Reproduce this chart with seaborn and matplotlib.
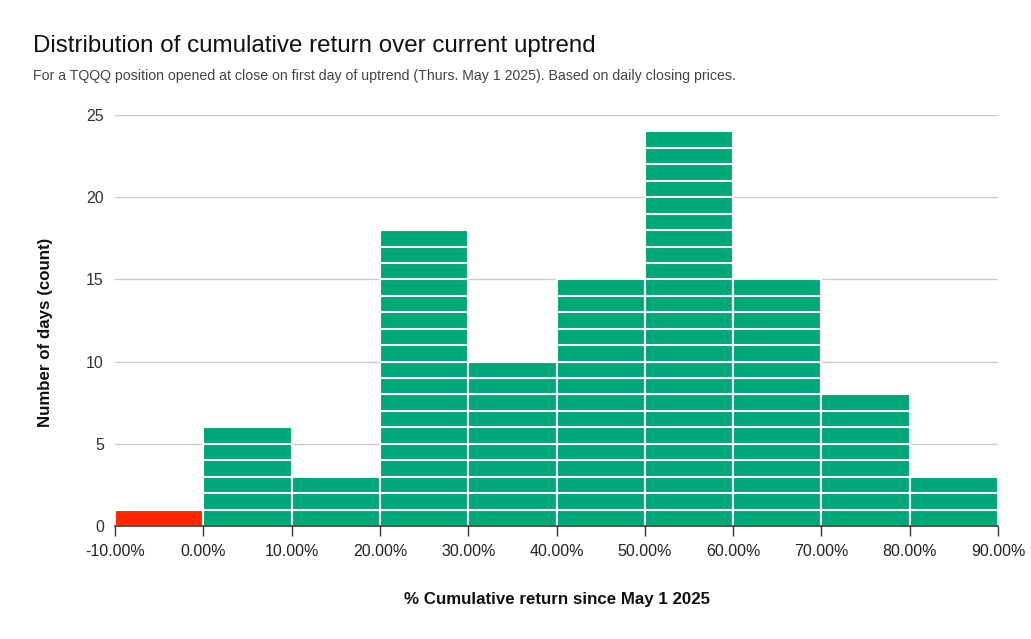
import matplotlib
matplotlib.use("Agg")
import matplotlib.pyplot as plt
import seaborn as sns
import numpy as np
import pandas as pd

# Data
bin_edges = [-10, 0, 10, 20, 30, 40, 50, 60, 70, 80, 90]
counts = [1, 6, 3, 18, 10, 15, 24, 15, 8, 3]
y_ticks = [0, 5, 10, 15, 20, 25]

title = "Distribution of cumulative return over current uptrend"
subtitle = "For a TQQQ position opened at close on first day of uptrend (Thurs. May 1 2025). Based on daily closing prices."
xlabel = "% Cumulative return since May 1 2025"
ylabel = "Number of days (count)"

GREEN = "#00a878"
RED = "#ff2600"

sns.set_theme(style="white")
plt.rcParams['font.family'] = ['Liberation Sans', 'DejaVu Sans']

fig = plt.figure(figsize=(10.31, 6.39), dpi=100)
ax = fig.add_axes([115/1031, 1-526/639, (998-115)/1031, (526-115)/639])

centers = [(bin_edges[i] + bin_edges[i+1]) / 2 for i in range(len(counts))]
df = pd.DataFrame({"ret": centers, "n": counts})

sns.histplot(data=df, x="ret", weights="n", bins=bin_edges, ax=ax,
             color=GREEN, alpha=1, edgecolor="white", linewidth=1.5, zorder=3)
for p, e in zip(ax.patches, bin_edges[:-1]):
    if e < 0:
        p.set_facecolor(RED)

# white separators at each unit level (stacked blocks look)
for i, c in enumerate(counts):
    for k in range(1, c):
        ax.hlines(k, bin_edges[i], bin_edges[i+1], color="white", linewidth=1.5, zorder=4)

ax.set_xlim(-10, 90)
ax.set_ylim(0, 25)
ax.set_yticks(y_ticks)
ax.set_xticks(bin_edges)
ax.set_xticklabels([f"{v:.2f}%" for v in bin_edges])
ax.yaxis.grid(True, color="#cccccc", linewidth=1, zorder=0)
ax.xaxis.grid(False)
ax.set_axisbelow(True)
for s in ["top", "right", "left"]:
    ax.spines[s].set_visible(False)
ax.spines["bottom"].set_color("#333333")
ax.spines["bottom"].set_linewidth(1.2)
ax.spines["bottom"].set_zorder(5)
ax.tick_params(axis="x", bottom=True, length=7, width=1, color="#333333",
               labelsize=11.5, labelcolor="#222222", pad=6)
ax.tick_params(axis="y", left=False, labelsize=11.5, labelcolor="#333333", pad=2)

ax.set_xlabel(xlabel, fontsize=12.2, fontweight="bold", color="#111111", labelpad=24)
ax.set_ylabel(ylabel, fontsize=12.2, fontweight="bold", color="#111111")
ax.yaxis.set_label_coords(-0.0702, 0.472)

fig.text(33/1031, 1-46/639, title, fontsize=17.4, color="#111111", va="center", ha="left")
fig.text(33/1031, 1-76/639, subtitle, fontsize=10.2, color="#444444", va="center", ha="left")

fig.savefig("out.png", dpi=100)
